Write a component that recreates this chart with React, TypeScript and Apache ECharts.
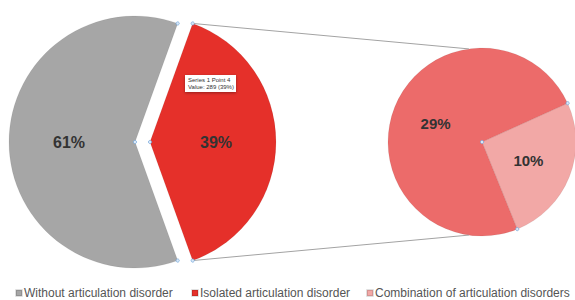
import React, { useEffect, useRef } from "react";
import * as echarts from "echarts";

const categories = [
  "Without articulation disorder",
  "Isolated articulation disorder",
  "Combination of articulation disorders",
];
const mainValues = [61, 39];
const subValues = [29, 10];
const legendColors = ["#a6a6a6", "#e5302a", "#f2a8a6"];
const subColors = ["#ec6b6a", "#f2a8a6"];
const tipLines = ["Series 1 Point 4", "Value: 289 (39%)"];

const FONT = "'Liberation Sans', Arial, Helvetica, sans-serif";

export default function App() {
  const ref = useRef<HTMLDivElement>(null);
  useEffect(() => {
    if (!ref.current) return;
    const chart = echarts.init(ref.current, null, { renderer: "svg" });

    const total = mainValues[0] + mainValues[1];
    const half = ((mainValues[1] / total) * 360) / 2;
    const mainStart = 360 - half;
    const subTotal = subValues[0] + subValues[1];
    const subHalf = ((subValues[1] / subTotal) * 360) / 2;
    const subMid = -21.8;
    const subStart = subMid + subHalf;

    const L = { x: 135, y: 142, r: 126 };
    const offset = 15;
    const R = { x: 482, y: 142, r: 94 };
    const polar = (cx: number, cy: number, r: number, deg: number) => {
      const a = (deg * Math.PI) / 180;
      return [cx + r * Math.cos(a), cy - r * Math.sin(a)];
    };

    const redTop = polar(L.x + offset, L.y, L.r, half);
    const redBot = polar(L.x + offset, L.y, L.r, -half);
    const subTop = polar(R.x, R.y, R.r, 98);
    const subBot = polar(R.x, R.y, R.r, -98);

    const handlePts = [
      [L.x, L.y],
      polar(L.x, L.y, L.r, half),
      polar(L.x, L.y, L.r, -half),
      [L.x + offset, L.y],
      redTop,
      redBot,
      [R.x, R.y],
      polar(R.x, R.y, R.r, subStart),
      polar(R.x, R.y, R.r, subStart - (subValues[1] / subTotal) * 360),
    ];

    const labelStyle = {
      show: true,
      position: "inside" as const,
      formatter: "{c}%",
      fontSize: 16,
      fontWeight: "bold" as const,
      color: "#333333",
      fontFamily: FONT,
    };
    const border = { borderColor: "rgba(0,0,0,0.12)", borderWidth: 0.5 };

    const legendLefts = [15, 191, 366];

    chart.setOption({
      animation: false,
      backgroundColor: "#ffffff",
      textStyle: { fontFamily: FONT },
      legend: categories.map((c, i) => ({
        data: [c],
        left: legendLefts[i],
        top: 287,
        padding: 0,
        itemWidth: 6,
        itemHeight: 6,
        icon: "rect",
        textStyle: {
          fontSize: 12,
          color: "#555555",
          fontFamily: FONT,
          padding: [0, 0, 0, -3],
        },
      })),
      series: [
        {
          type: "pie",
          center: [L.x, L.y],
          radius: [0, L.r],
          startAngle: mainStart,
          clockwise: true,
          avoidLabelOverlap: false,
          silent: true,
          label: labelStyle,
          labelLine: { show: false },
          data: [
            { name: categories[0], value: mainValues[0], itemStyle: { color: legendColors[0], ...border } },
            { name: "_restA", value: mainValues[1], itemStyle: { color: "rgba(0,0,0,0)" }, label: { show: false } },
          ],
        },
        {
          type: "pie",
          center: [L.x + offset, L.y],
          radius: [0, L.r],
          startAngle: mainStart,
          clockwise: true,
          avoidLabelOverlap: false,
          silent: true,
          label: labelStyle,
          labelLine: { show: false },
          data: [
            { name: "_restB", value: mainValues[0], itemStyle: { color: "rgba(0,0,0,0)" }, label: { show: false } },
            { name: categories[1], value: mainValues[1], itemStyle: { color: legendColors[1], ...border } },
          ],
        },
        {
          type: "pie",
          center: [R.x, R.y],
          radius: [0, R.r],
          startAngle: subStart,
          clockwise: true,
          avoidLabelOverlap: false,
          silent: true,
          label: { ...labelStyle, fontSize: 15 },
          labelLine: { show: false },
          data: [
            { name: categories[2], value: subValues[1], itemStyle: { color: subColors[1], ...border } },
            { name: categories[1], value: subValues[0], itemStyle: { color: subColors[0], ...border } },
          ],
        },
      ],
      graphic: [
        {
          type: "line",
          shape: { x1: redTop[0], y1: redTop[1], x2: subTop[0], y2: subTop[1] },
          style: { stroke: "#a3a3a3", lineWidth: 1 },
          z: 10,
        },
        {
          type: "line",
          shape: { x1: redBot[0], y1: redBot[1], x2: subBot[0], y2: subBot[1] },
          style: { stroke: "#a3a3a3", lineWidth: 1 },
          z: 10,
        },
        ...handlePts.map((p) => ({
          type: "circle",
          shape: { cx: p[0], cy: p[1], r: 1.6 },
          style: { fill: "#dbe9f8", stroke: "#6fa3d8", lineWidth: 0.7 },
          z: 20,
        })),
        {
          type: "rect",
          shape: { x: 185, y: 75, width: 51, height: 17 },
          style: {
            fill: "#ffffff",
            shadowBlur: 3,
            shadowColor: "rgba(0,0,0,0.35)",
            shadowOffsetY: 1,
          },
          z: 30,
        },
        ...tipLines.map((t, i) => ({
          type: "text",
          x: 188,
          y: 80 + i * 7,
          style: {
            text: t,
            fontSize: 6,
            fill: "#333333",
            fontFamily: FONT,
            verticalAlign: "middle",
          },
          z: 31,
        })),
      ],
    });
    return () => chart.dispose();
  }, []);
  return (
    <div
      ref={ref}
      style={{ position: "fixed", left: 0, top: 0, width: 575, height: 300 }}
    />
  );
}
